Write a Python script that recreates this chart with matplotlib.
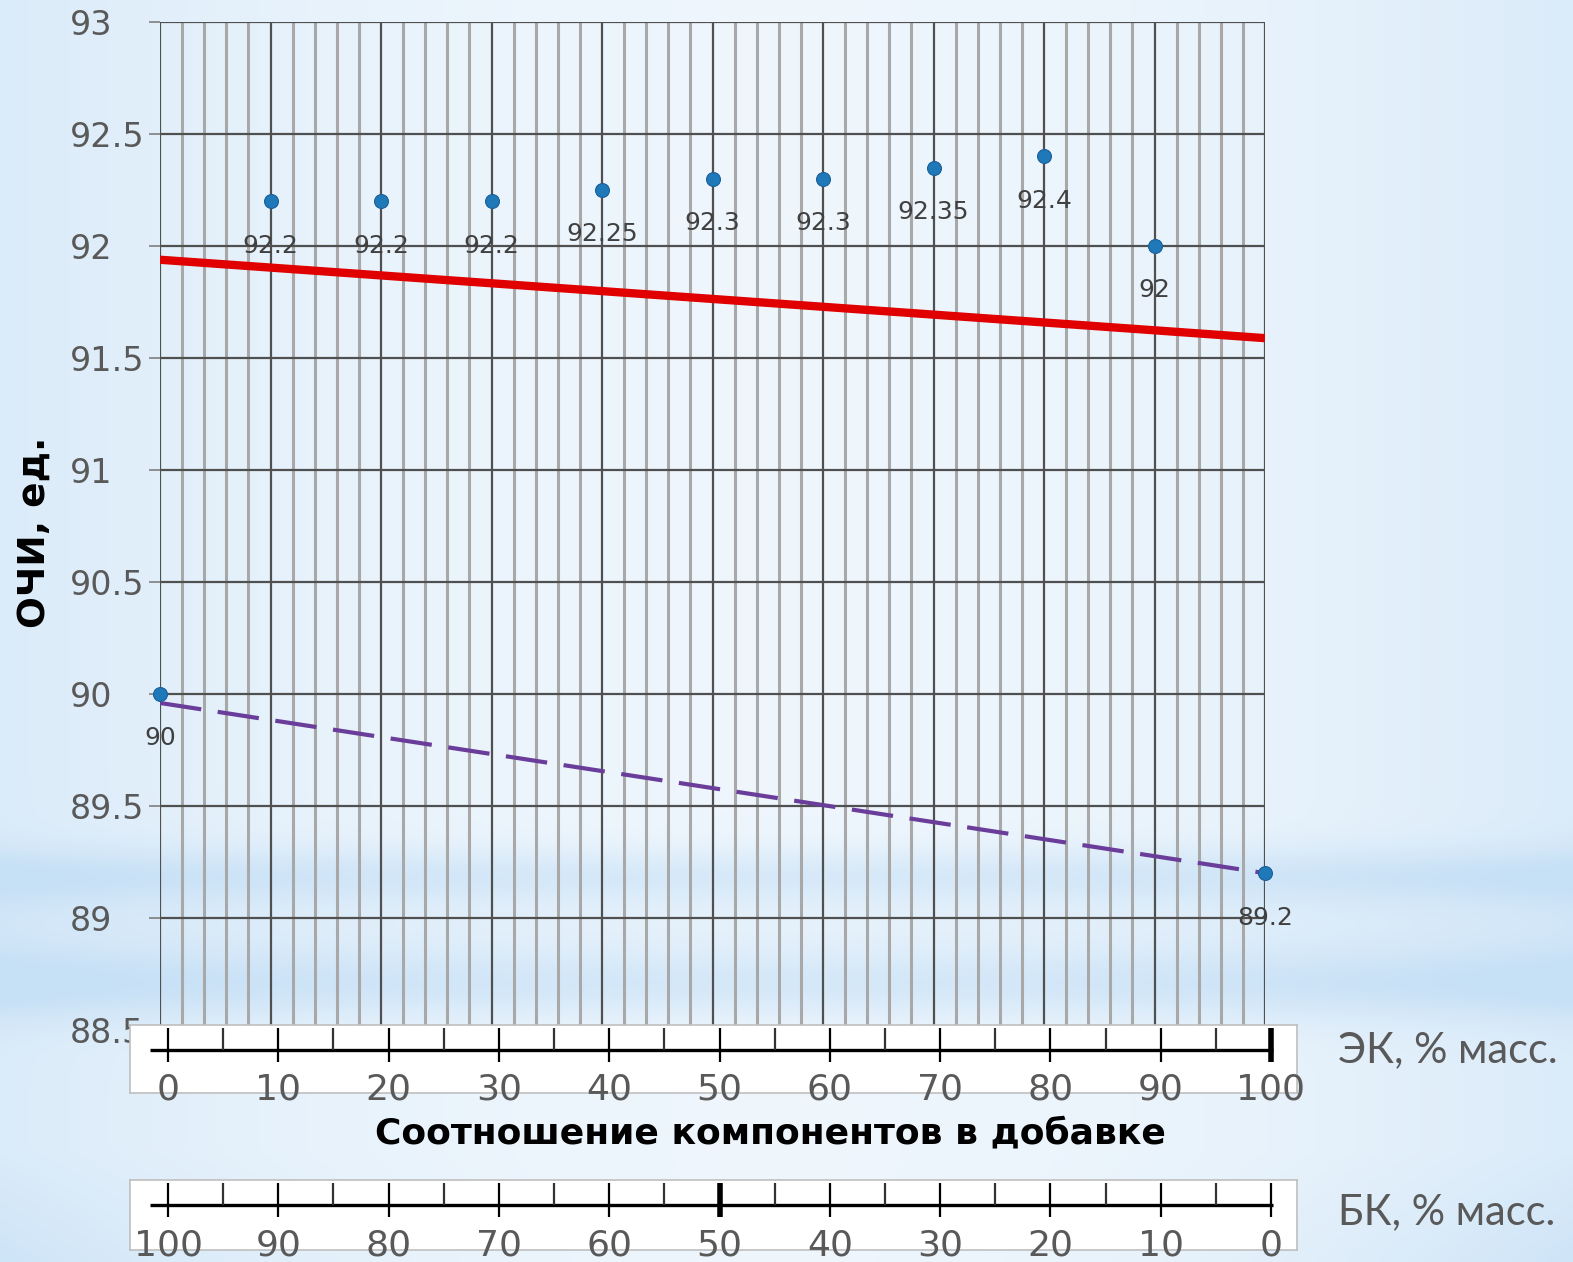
import numpy as np
import matplotlib
matplotlib.use("Agg")
import matplotlib.pyplot as plt

# --- данные ---
ek = [0, 10, 20, 30, 40, 50, 60, 70, 80, 90, 100]          # ЭК, % масс.
ochi = [90, 92.2, 92.2, 92.2, 92.25, 92.3, 92.3, 92.35, 92.4, 92, 89.2]
point_labels = ["90", "92.2", "92.2", "92.2", "92.25", "92.3", "92.3", "92.35", "92.4", "92", "89.2"]
dash_x = [0, 100]
dash_y = [89.96, 89.2]                                      # аддитивная линия
ruler_ticks = [0, 10, 20, 30, 40, 50, 60, 70, 80, 90, 100]
ruler_minor = [5, 15, 25, 35, 45, 55, 65, 75, 85, 95]
ek_labels = ["0", "10", "20", "30", "40", "50", "60", "70", "80", "90", "100"]
bk_labels = ["100", "90", "80", "70", "60", "50", "40", "30", "20", "10", "0"]
y_ticks = [88.5, 89, 89.5, 90, 90.5, 91, 91.5, 92, 92.5, 93]

W, H = 1573, 1262
fig = plt.figure(figsize=(W / 100, H / 100), dpi=100)

def fx(px):
    return px / W

def fy(py):
    return 1 - py / H

# --- фон (голубой градиент) ---
bg = fig.add_axes([0, 0, 1, 1], zorder=-10)
yy, xx = np.mgrid[0:H:4, 0:W:4].astype(float)
u = xx / W
t = 0.5 * ((u - 0.5) * 2) ** 2
t += 0.5 * np.exp(-((yy - 875) / 28) ** 2) + 0.55 * np.exp(-((yy - 985) / 35) ** 2)
t += 0.2 * np.exp(-((yy - 930) / 60) ** 2)
t += 0.35 * np.clip((yy - 1150) / 120, 0, 1) * ((u - 0.5) * 2) ** 2
t = np.clip(t, 0, 1)[..., None]
light = np.array([0.935, 0.965, 0.99])
dark = np.array([0.78, 0.88, 0.965])
bg.imshow(light * (1 - t) + dark * t, aspect="auto", interpolation="bilinear")
bg.axis("off")

# --- основной график ---
ax = fig.add_axes([fx(160), fy(1030), fx(1265) - fx(160), fy(22) - fy(1030)], zorder=1)
ax.set_facecolor("none")
ax.set_xlim(0, 100)
ax.set_ylim(88.5, 93)
for s in ax.spines.values():
    s.set_visible(False)

ax.set_xticks(ruler_ticks)
ax.set_xticks(np.arange(0, 101, 2), minor=True)
ax.set_yticks(y_ticks)
ax.set_yticklabels([f"{v:g}" for v in y_ticks], ha="left")
ax.grid(which="minor", axis="x", color="#a8a8a8", lw=2.2, zorder=0)
ax.grid(which="major", axis="x", color="#505050", lw=1.6, zorder=0)
ax.grid(which="major", axis="y", color="#505050", lw=1.6, zorder=0)
ax.tick_params(axis="x", which="both", bottom=False, labelbottom=False)
ax.tick_params(axis="y", direction="out", length=8, width=1.2, color="#7f7f7f",
               labelsize=24, labelcolor="#595959", pad=57)

# линия тренда (линейная аппроксимация, как в Excel)
k, b = np.polyfit(ek, ochi, 1)
ax.plot([0, 100], [b, b + 100 * k], color="#e00000", lw=6, zorder=3, solid_capstyle="butt")
ax.plot(dash_x, dash_y, color="#6a3d9a", lw=3, dashes=(10, 4), zorder=3)
ax.plot(ek, ochi, "o", color="#1f78b8", markersize=10, markeredgecolor="#1a5f99",
        markeredgewidth=0.8, zorder=4, clip_on=False)
for xv, yv, lab in zip(ek, ochi, point_labels):
    ax.annotate(lab, (xv, yv), xytext=(0, -32), textcoords="offset points",
                ha="center", va="center", fontsize=18, color="#404040", zorder=5)

fig.text(fx(35), fy(532), "ОЧИ, ед.", rotation=90, fontsize=27, fontweight="bold",
         ha="center", va="center")

# --- линейки (шкалы ЭК и БК) ---
def ruler(top, bottom, labels, thick):
    r = fig.add_axes([fx(130), fy(bottom), fx(1297) - fx(130), fy(top) - fy(bottom)], zorder=5)
    r.set_xlim(-38 / 11.03, (1297 - 168) / 11.03)
    h = bottom - top
    r.set_ylim(h, 0)
    r.set_facecolor("white")
    for s in r.spines.values():
        s.set_color("#bfbfbf")
        s.set_linewidth(1.2)
    r.set_xticks([])
    r.set_yticks([])
    r.plot([-1.6, 100.2], [25, 25], color="black", lw=2.4, solid_capstyle="butt")
    r.vlines(ruler_ticks, 3, 37, color="black", lw=1.6)
    r.vlines(ruler_minor, 3, 25, color="#333333", lw=1.6)
    r.vlines([thick], 3, 37, color="black", lw=4)
    for xv, lab in zip(ruler_ticks, labels):
        r.text(xv, h - 4, lab, ha="center", va="center", fontsize=26, color="#595959", clip_on=False)
    return r

ruler(1025, 1093, ek_labels, 100)
ruler(1180, 1250, bk_labels, 50)

fig.text(fx(770), fy(1133), "Соотношение компонентов в добавке", fontsize=26,
         fontweight="bold", ha="center", va="center")
fig.text(fx(1338), fy(1050), "ЭК, % масс.", fontsize=30, family="Lato", color="#595959",
         ha="left", va="center")
fig.text(fx(1338), fy(1212), "БК, % масс.", fontsize=30, family="Lato", color="#595959",
         ha="left", va="center")

fig.savefig("out.png", dpi=100)
